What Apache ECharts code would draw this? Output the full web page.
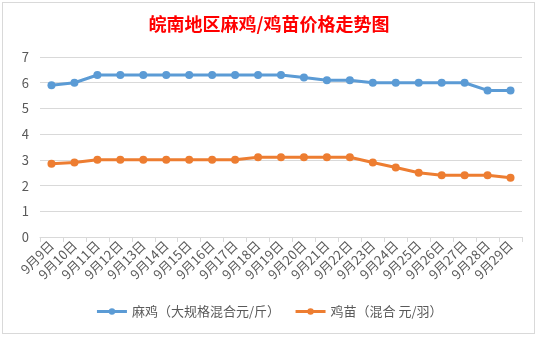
<!DOCTYPE html>
<html><head><meta charset="utf-8">
<script src="https://cdn.jsdelivr.net/npm/echarts@6/dist/echarts.min.js"></script>
<style>
html,body{margin:0;padding:0;background:#fff;}
#c{width:538px;height:337px;position:absolute;left:0;top:0;}
#b{position:absolute;left:2px;top:2px;width:531px;height:330px;border:1px solid #d9d9d9;pointer-events:none;}
</style></head>
<body>
<div id="c"></div><div id="b"></div>
<script>
const categories = ['9月9日','9月10日','9月11日','9月12日','9月13日','9月14日','9月15日','9月16日','9月17日','9月18日','9月19日','9月20日','9月21日','9月22日','9月23日','9月24日','9月25日','9月26日','9月27日','9月28日','9月29日'];
const maji = [5.9,6.0,6.3,6.3,6.3,6.3,6.3,6.3,6.3,6.3,6.3,6.2,6.1,6.1,6.0,6.0,6.0,6.0,6.0,5.7,5.7];
const jimiao = [2.85,2.9,3.0,3.0,3.0,3.0,3.0,3.0,3.0,3.1,3.1,3.1,3.1,3.1,2.9,2.7,2.5,2.4,2.4,2.4,2.3];
const seriesNames = ['麻鸡（大规格混合元/斤）','鸡苗（混合 元/羽）'];
const titleText = '皖南地区麻鸡/鸡苗价格走势图';

const chart = echarts.init(document.getElementById('c'));
const font = '"Microsoft YaHei","Noto Sans CJK SC",sans-serif';
chart.setOption({
  animation:false,
  backgroundColor:'#fff',
  title:{text:titleText,left:'center',top:10,textStyle:{color:'#ff0000',fontSize:18,fontWeight:'bold',fontFamily:font}},
  legend:{bottom:14,left:'center',itemWidth:30,itemHeight:8,itemGap:14,
    lineStyle:{width:3},
    textStyle:{color:'#595959',fontSize:13,fontFamily:font},
    data:seriesNames},
  grid:{left:40,right:16,top:57,bottom:100,containLabel:false},
  xAxis:{type:'category',data:categories,boundaryGap:true,
    axisLine:{lineStyle:{color:'#d9d9d9',width:1}},
    axisTick:{show:true,length:5,lineStyle:{color:'#d9d9d9'}},
    axisLabel:{rotate:45,color:'#595959',fontSize:13,margin:6,interval:0,fontFamily:font}},
  yAxis:{type:'value',min:0,max:7,interval:1,
    axisLine:{show:false},axisTick:{show:false},
    axisLabel:{color:'#595959',fontSize:13,margin:11,fontFamily:font},
    splitLine:{lineStyle:{color:'#d9d9d9',width:1}}},
  series:[
    {name:seriesNames[0],type:'line',data:maji,symbol:'circle',symbolSize:8,
     lineStyle:{color:'#5b9bd5',width:3},itemStyle:{color:'#5b9bd5'}},
    {name:seriesNames[1],type:'line',data:jimiao,symbol:'circle',symbolSize:8,
     lineStyle:{color:'#ed7d31',width:3},itemStyle:{color:'#ed7d31'}}
  ]
});
</script>
</body></html>
